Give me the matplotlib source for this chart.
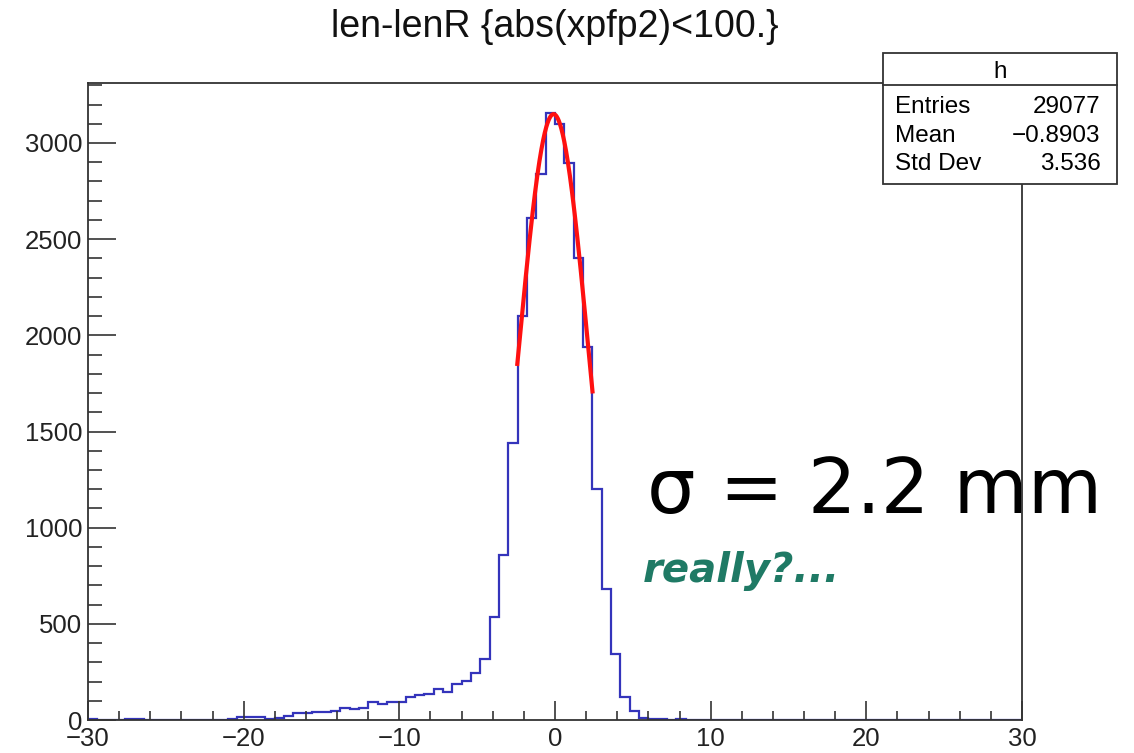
import numpy as np
import matplotlib.pyplot as plt
from matplotlib.ticker import MultipleLocator
from matplotlib.patches import Rectangle
from matplotlib.lines import Line2D

# ====== histogram contents (100 bins, -30..30) ======
n_bins = 100
x_lo, x_hi = -30, 30
counts = [3, 0, 0, 0, 3, 3, 2, 1, 2, 2,
          1, 2, 2, 1, 2, 3, 14, 15, 14, 3,
          12, 22, 35, 35, 40, 41, 48, 64, 55, 64,
          92, 83, 94, 92, 120, 130, 135, 160, 146, 188,
          205, 242, 318, 536, 858, 1442, 2102, 2612, 2839, 3158,
          3099, 2898, 2401, 1938, 1200, 683, 343, 118, 48, 12,
          3, 3, 2, 3, 2, 2, 1, 1, 0, 1,
          0, 0, 0, 1, 0, 0, 0, 0, 0, 0,
          0, 0, 0, 0, 0, 0, 0, 0, 0, 0,
          0, 0, 0, 0, 0, 0, 0, 0, 0, 0]

# gaussian fit parameters
fit_const = 3150
fit_mean = -0.09
fit_sigma = 2.26
fit_range = (-2.42, 2.41)

title = 'len-lenR {abs(xpfp2)<100.}'
stats_name = 'h'
stats_labels = ['Entries', 'Mean', 'Std Dev']
stats_values = ['29077', '\u22120.8903', '3.536']

root_font = 'Liberation Sans'
axis_col = '#333333'

fig = plt.figure(figsize=(11.34, 7.53), dpi=100)
ax = fig.add_axes([0.0776, 0.0438, 0.8236, 0.846])

edges = np.linspace(x_lo, x_hi, n_bins + 1)
ax.stairs(counts, edges, color='#3434bb', lw=1.6, zorder=1.5)

xf = np.linspace(fit_range[0], fit_range[1], 300)
yf = fit_const * np.exp(-0.5 * ((xf - fit_mean) / fit_sigma) ** 2)
ax.plot(xf, yf, color='#ff1010', lw=3, zorder=2)

ax.set_xlim(x_lo, x_hi)
ax.set_ylim(0, 3312)
ax.xaxis.set_major_locator(MultipleLocator(10))
ax.xaxis.set_minor_locator(MultipleLocator(2))
ax.yaxis.set_major_locator(MultipleLocator(500))
ax.yaxis.set_minor_locator(MultipleLocator(100))

for s in ax.spines.values():
    s.set_color(axis_col)
    s.set_linewidth(1.3)

ax.tick_params(which='both', direction='in', top=False, right=False,
               color=axis_col, width=1.2, labelsize=18.5)
ax.tick_params(axis='y', which='major', length=20, pad=4)
ax.tick_params(axis='y', which='minor', length=10)
ax.tick_params(axis='x', which='major', length=13.7, pad=5)
ax.tick_params(axis='x', which='minor', length=6.8)
for lab in ax.get_xticklabels() + ax.get_yticklabels():
    lab.set_fontfamily(root_font)
    lab.set_color('#222222')

# title
fig.text(0.4894, 1 - 37 / 753, title, ha='center', va='baseline',
         fontsize=27, family=root_font, color='#111111')

# annotations
ax.text(0.5705, 0.3187, '\u03c3 = 2.2 mm', transform=fig.transFigure,
        fontsize=55, family='DejaVu Sans', color='black',
        va='baseline', ha='left', zorder=1, clip_on=False)
ax.text(0.567, 0.2271, 'really?...', transform=fig.transFigure,
        fontsize=29, family='DejaVu Sans', weight='bold', style='italic',
        color='#1f7a65', va='baseline', ha='left', zorder=1, clip_on=False)

# stats box
bx0, bx1 = 882.7 / 1134, 1117.3 / 1134
by0, by1 = 1 - 184 / 753, 1 - 53.3 / 753
fig.add_artist(Rectangle((bx0, by0), bx1 - bx0, by1 - by0, transform=fig.transFigure,
                         facecolor='white', edgecolor=axis_col, lw=1.3, zorder=3))
sep = 1 - 85 / 753
fig.add_artist(Line2D([bx0, bx1], [sep, sep], transform=fig.transFigure,
                      color=axis_col, lw=1.3, zorder=4))
fig.text((bx0 + bx1) / 2, 1 - 78 / 753, stats_name, ha='center', va='baseline',
         fontsize=17.5, family=root_font, zorder=5)
row_y = [112.7, 141.7, 170]
for lab, val, yy in zip(stats_labels, stats_values, row_y):
    fig.text(895 / 1134, 1 - yy / 753, lab, ha='left', va='baseline',
             fontsize=17.5, family=root_font, zorder=5)
    fig.text(1100.7 / 1134, 1 - yy / 753, val, ha='right', va='baseline',
             fontsize=17.5, family=root_font, zorder=5)

fig.savefig('out.png', dpi=100)
